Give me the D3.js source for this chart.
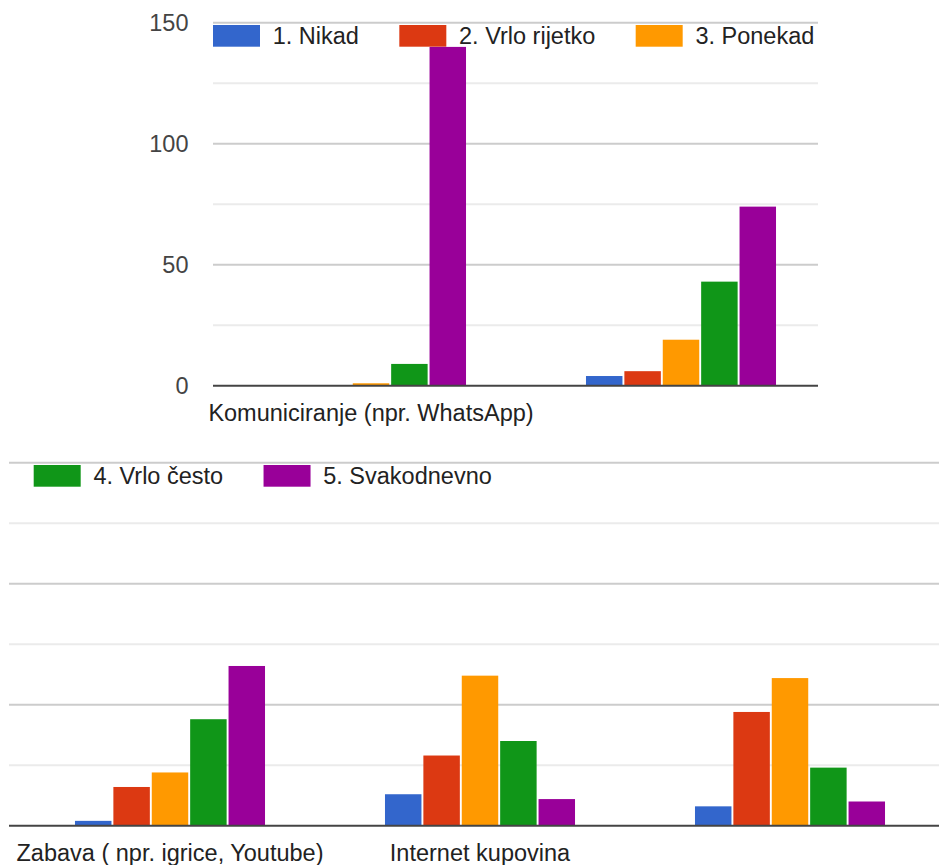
<html>
  <head>
    <meta charset="utf-8">
    <title>Grafikon</title>
    <script src="https://d3js.org/d3.v7.min.js"></script>
    <style>
      body { margin: 0; background: #fff; }
      text { font-family: "Liberation Sans", Arial, sans-serif; }
    </style>
  </head>
  <body>

    <svg id="grafico" width="939" height="865"></svg>

    <script>
    // podaci
    let categories = ["Komuniciranje (npr. WhatsApp)", "", "Zabava ( npr. igrice, Youtube)", "Internet kupovina", ""];
    let seriesNames = ["1. Nikad", "2. Vrlo rijetko", "3. Ponekad", "4. Vrlo često", "5. Svakodnevno"];
    let nikad       = [0, 4, 2, 13, 8];
    let vrloRijetko = [0, 6, 16, 29, 47];
    let ponekad     = [1, 19, 22, 62, 61];
    let vrloCesto   = [9, 43, 44, 35, 24];
    let svakodnevno = [140, 74, 66, 11, 10];
    let yTicks = [0, 50, 100, 150];
    let yMinorTicks = [25, 75, 125];

    let seriesValues = [nikad, vrloRijetko, ponekad, vrloCesto, svakodnevno];
    let colors = ["#3366cc", "#dc3912", "#ff9900", "#109618", "#990099"];

    let svg = d3.select("#grafico");

    // skale (jedan siroki grafikon, prikazan u dva isjecka)
    let y = d3.scaleLinear().domain([0, 150]).range([385.7, 22.7]);
    let x0 = d3.scaleBand()
      .domain(d3.range(categories.length))
      .range([216, 216 + 310 * categories.length])
      .paddingInner(0.387)
      .paddingOuter(0.1935);
    let x1 = d3.scaleBand()
      .domain(d3.range(seriesNames.length))
      .range([0, x0.bandwidth()])
      .paddingInner(0.05);

    let panels = [
      {dx: 0,   dy: 0,   left: 213, right: 818, axis: true},
      {dx: 821, dy: 440, left: 9,   right: 939, axis: false}
    ];

    let fontSize = 23.5;

    // pozicije legende u jednom redu
    let measure = svg.append("text").style("font-size", fontSize + "px");
    let legendX = [];
    let cur = 213;
    seriesNames.forEach(function(name){
      legendX.push(cur);
      measure.text(name);
      cur += 47 + 12.7 + measure.node().getComputedTextLength() + 40.4;
    });
    measure.remove();

    let defs = svg.append("defs");

    panels.forEach(function(p, i){
      let g = svg.append("g").attr("transform", "translate(0," + p.dy + ")");

      defs.append("clipPath").attr("id", "plotClip" + i)
        .append("rect")
        .attr("x", p.left).attr("y", -10)
        .attr("width", p.right - p.left).attr("height", 420);

      // mreza
      g.selectAll(".minor")
        .data(yMinorTicks)
        .enter()
        .append("line")
        .attr("x1", p.left).attr("x2", p.right)
        .attr("y1", d => y(d)).attr("y2", d => y(d))
        .attr("stroke", "#ebebeb")
        .attr("stroke-width", 2);
      g.selectAll(".major")
        .data(yTicks.filter(d => d != 0))
        .enter()
        .append("line")
        .attr("x1", p.left).attr("x2", p.right)
        .attr("y1", d => y(d)).attr("y2", d => y(d))
        .attr("stroke", "#cccccc")
        .attr("stroke-width", 2);

      // legenda - samo stavke koje stanu u isjecak
      let legItems = seriesNames
        .map((name, k) => ({name: name, k: k, x: legendX[k] - p.dx}))
        .filter(d => d.x >= p.left - 5 && d.x < p.right);
      let leg = g.append("g");
      leg.selectAll("rect")
        .data(legItems)
        .enter()
        .append("rect")
        .attr("x", d => d.x)
        .attr("y", 25)
        .attr("width", 47)
        .attr("height", 21.7)
        .attr("fill", d => colors[d.k]);
      leg.selectAll("text")
        .data(legItems)
        .enter()
        .append("text")
        .attr("x", d => d.x + 59.7)
        .attr("y", 44.3)
        .style("font-size", fontSize + "px")
        .attr("fill", "#222")
        .text(d => d.name);

      // stupci
      let bars = g.append("g")
        .attr("clip-path", "url(#plotClip" + i + ")")
        .append("g")
        .attr("transform", "translate(" + (-p.dx) + ",0)");
      let groups = bars.selectAll("g")
        .data(categories)
        .enter()
        .append("g")
        .attr("transform", (d, c) => "translate(" + x0(c) + ",0)");
      groups.selectAll("rect")
        .data((d, c) => seriesValues.map((vals, s) => ({s: s, v: vals[c]})))
        .enter()
        .append("rect")
        .attr("x", d => x1(d.s))
        .attr("y", d => y(d.v))
        .attr("width", x1.bandwidth())
        .attr("height", d => y(0) - y(d.v))
        .attr("fill", d => colors[d.s]);

      // nazivi kategorija - samo oni unutar isjecka
      let labItems = categories
        .map((name, c) => ({name: name, cx: x0(c) + x0.bandwidth() / 2 - p.dx}))
        .filter(d => d.name != "" && d.cx > p.left && d.cx < p.right);
      g.append("g").selectAll("text")
        .data(labItems)
        .enter()
        .append("text")
        .attr("x", d => d.cx)
        .attr("y", y(0) + 35)
        .attr("text-anchor", "middle")
        .style("font-size", fontSize + "px")
        .attr("fill", "#222")
        .text(d => d.name);

      // osnovna linija
      g.append("line")
        .attr("x1", p.left).attr("x2", p.right)
        .attr("y1", y(0)).attr("y2", y(0))
        .attr("stroke", "#444")
        .attr("stroke-width", 2);

      // oznake osi y
      if (p.axis) {
        g.selectAll(".ytick")
          .data(yTicks)
          .enter()
          .append("text")
          .attr("x", 188.5)
          .attr("y", d => y(d))
          .attr("dy", "0.36em")
          .attr("text-anchor", "end")
          .style("font-size", fontSize + "px")
          .attr("fill", "#444")
          .text(d => d);
      }
    });
    </script>

  </body>
</html>
